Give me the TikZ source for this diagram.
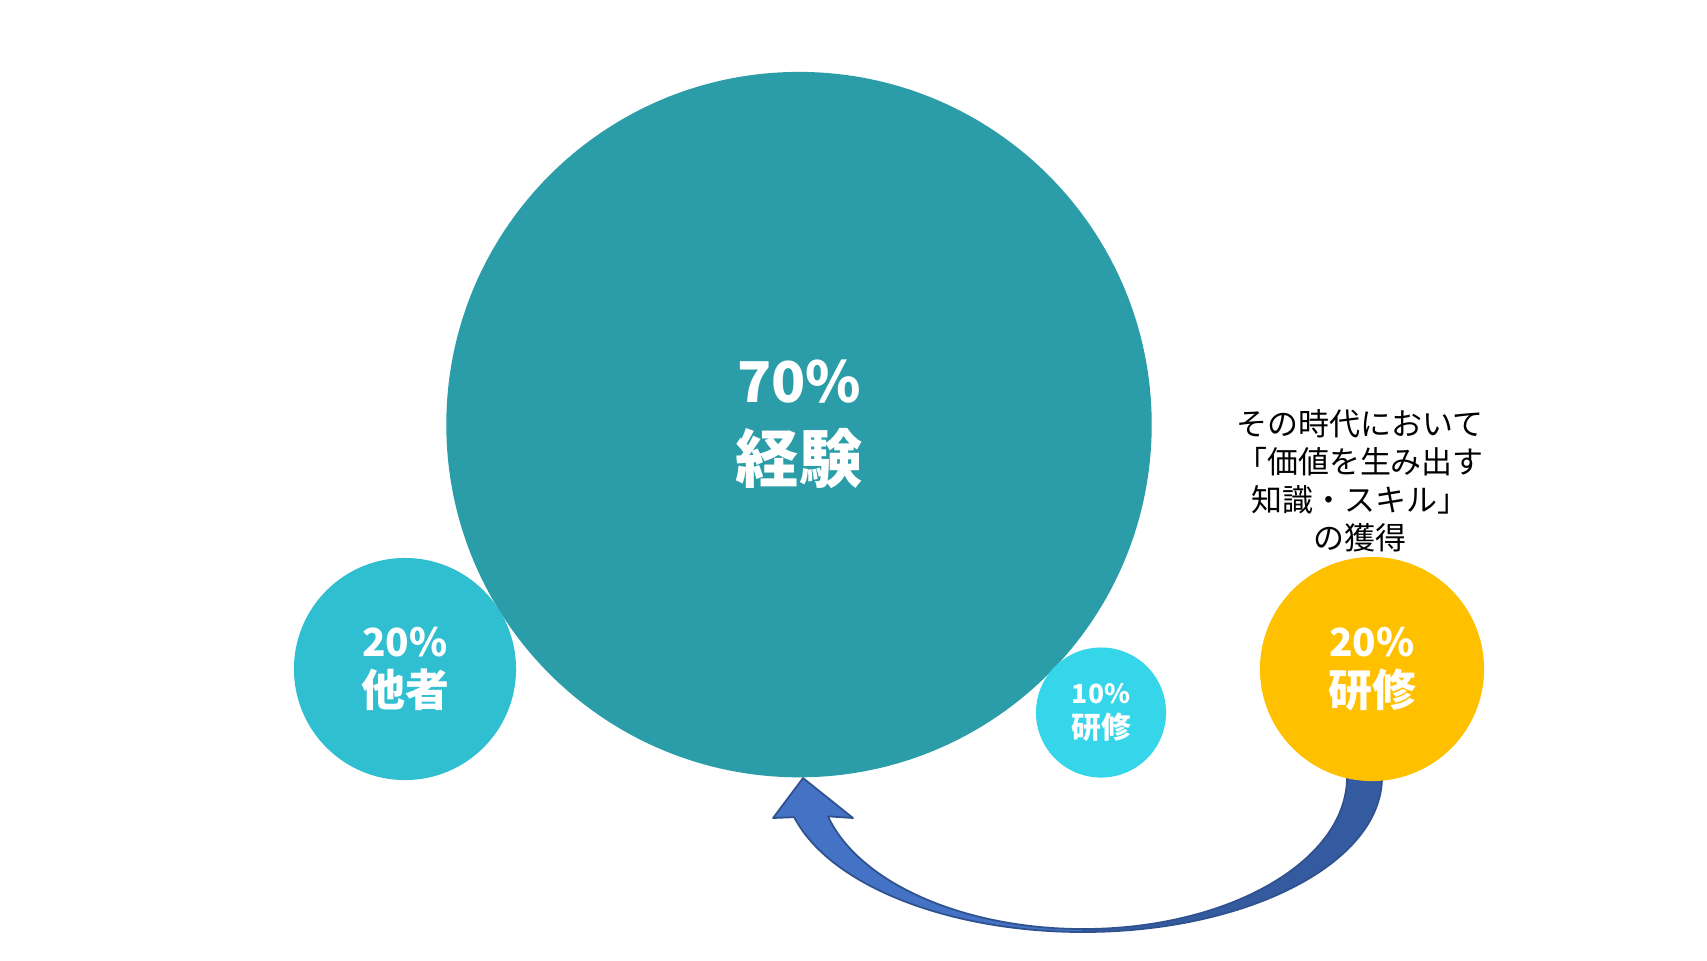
\documentclass[tikz,border=0pt]{standalone}
\usepackage{fontspec}
\setmainfont{Noto Sans CJK JP}
\usepackage{tikz}
\usetikzlibrary{positioning,calc}
\usepackage{xcolor}
\definecolor{expc}{RGB}{42,157,168}
\definecolor{peerc}{RGB}{47,191,208}
\definecolor{smallc}{RGB}{53,214,234}
\definecolor{trainc}{RGB}{255,192,0}
\definecolor{arrL}{RGB}{68,114,196}
\definecolor{arrD}{RGB}{52,90,160}
\definecolor{arrE}{RGB}{47,82,143}
\tikzset{
  bubble/.style={circle,inner sep=0pt,text=white,align=center,font=\bfseries},
  note/.style={inner sep=0pt,align=center,text=black,
    font=\fontsize{8.8}{10.8}\selectfont},
  ribbon/.style={draw=arrE,line width=0.5pt,line join=round},
}
\newcommand{\pct}[2]{{\fontsize{#1}{#1}\selectfont #2}}

\begin{document}
\begin{tikzpicture}[x=0.01cm,y=-0.01cm]
\useasboundingbox (0,0) rectangle (1707,960);
\fill[white] (0,0) rectangle (1707,960);
% the big one
\node[bubble,fill=expc,minimum size=7.05cm,
  font=\bfseries\fontsize{18}{22.7}\selectfont] (exp) at (799,424.6) {\pct{16}{70\%}\\経験};
% curved arrow back to the big one
\coordinate (bend) at (1083,777);
\coordinate (tip) at ($(exp.south)+(4,0)$);
\filldraw[ribbon,fill=arrD] ($(bend)+(90:299 and 155)$)
  arc[start angle=90,end angle=0,x radius=299,y radius=155] -- ++(-35,0)
  arc[start angle=0,end angle=90,x radius=264,y radius=152] -- cycle;
\filldraw[ribbon,fill=arrL] ($(bend)+(165:299 and 155)$)
  arc[start angle=165,end angle=90,x radius=299,y radius=155]
  -- ($(bend)+(90:264 and 152)$)
  arc[start angle=90,end angle=165,x radius=264,y radius=152]
  -- ($(tip)+(50,40)$) -- (tip) -- ($(tip)+(-30,40)$) -- cycle;
% the others
\node[bubble,fill=peerc,minimum size=2.22cm,
  font=\bfseries\fontsize{12.5}{14.2}\selectfont] (peer) at (405,669) {\pct{11}{20\%}\\他者};
\node[bubble,fill=smallc,minimum size=1.30cm,
  font=\bfseries\fontsize{8.5}{9.7}\selectfont] (course) at (1101,712.5) {\pct{7.5}{10\%}\\研修};
\node[bubble,fill=trainc,minimum size=2.24cm,
  font=\bfseries\fontsize{12.5}{14.2}\selectfont] (train) at (1372,669) {\pct{11}{20\%}\\研修};
\node[note] (gain) at (1360,481)
  {その時代において\\「価値を生み出す\\知識・スキル」\\の獲得};
\end{tikzpicture}
\end{document}
